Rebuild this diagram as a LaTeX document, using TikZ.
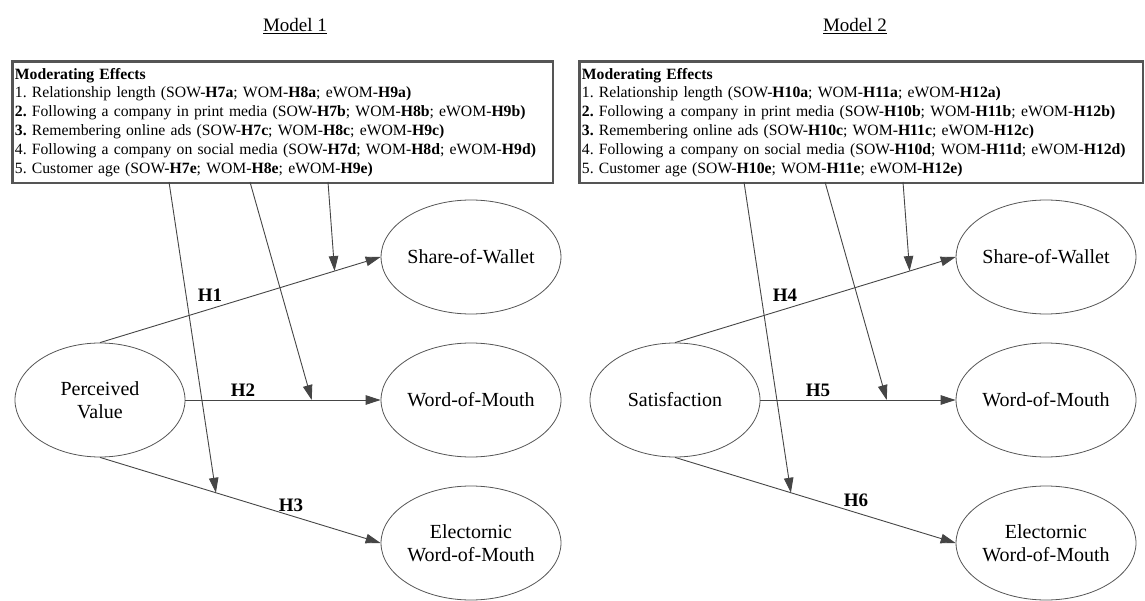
\documentclass[tikz,border=0pt]{standalone}
\usepackage{fontspec}
\setmainfont{Liberation Serif}
\usetikzlibrary{arrows.meta,shapes.geometric,positioning}
\usepackage{xcolor}

\definecolor{linegray}{HTML}{454545}
\definecolor{rimgray}{HTML}{555555}

\begin{document}
\frenchspacing
\begin{tikzpicture}[
	x=1pt, y=-1pt,
	>={Triangle[length=15pt,width=9.5pt]},
	title/.style={font=\fontsize{19}{22}\selectfont},
	modbox/.style={rectangle, draw=rimgray, line width=2.4pt, anchor=north west,
		align=left, inner xsep=2.5pt, inner ysep=0pt, minimum height=121.6pt,
		font=\fontsize{15.7}{18.8}\selectfont\frenchspacing},
	construct/.style={ellipse, draw=rimgray, line width=0.8pt, minimum width=170pt,
		minimum height=114pt, inner sep=0pt, align=center,
		font=\fontsize{20}{23}\selectfont},
	effect/.style={->, draw=linegray, line width=0.9pt},
	moder/.style={->, draw=linegray, line width=0.9pt},
	hyp/.style={font=\bfseries\fontsize{19}{22}\selectfont}
	]
	\useasboundingbox (0,0) rectangle (1145,601);
	
	% Model 1
	\node[title] (t1) at (295,26) {\underline{Model 1}};
	\node[modbox, text width=535.6pt] (mod1) at (11.2,60.2) {%
		\textbf{Moderating Effects}\\
		1. Relationship length (SOW-\textbf{H7a}; WOM-\textbf{H8a}; eWOM-\textbf{H9a)}\\
		\textbf{2.} Following a company in print media (SOW-\textbf{H7b}; WOM-\textbf{H8b}; eWOM-\textbf{H9b)}\\
		\textbf{3.} Remembering online ads (SOW-\textbf{H7c}; WOM-\textbf{H8c}; eWOM-\textbf{H9c)}\\
		4. Following a company on social media (SOW-\textbf{H7d}; WOM-\textbf{H8d}; eWOM-\textbf{H9d)}\\
		5. Customer age (SOW-\textbf{H7e}; WOM-\textbf{H8e}; eWOM-\textbf{H9e)}};
	
	\node[construct] (pv1) at (100,400) {Perceived\\Value};
	\node[construct] (sow1) at (471,257) {Share-of-Wallet};
	\node[construct] (wom1) at (471,400) {Word-of-Mouth};
	\node[construct] (ewom1) at (471,543) {Electornic\\Word-of-Mouth};
	
	\draw[effect] (pv1.north) -- coordinate[pos=0.836] (on1sow) (sow1.west);
	\draw[effect] (pv1.east) -- coordinate[pos=0.647] (on1wom) (wom1.west);
	\draw[effect] (pv1.south) -- coordinate[pos=0.413] (on1ewom) (ewom1.west);
	
	\coordinate (m1sow) at (328,182);
	\coordinate (m1wom) at (250,182);
	\coordinate (m1ewom) at (169,182);
	\draw[moder] (m1sow) -- (on1sow);
	\draw[moder] (m1wom) -- (on1wom);
	\draw[moder] (m1ewom) -- (on1ewom);
	
	\node[hyp] (h1) at (210,295) {H1};
	\node[hyp] (h2) at (243,390) {H2};
	\node[hyp] (h3) at (291,505) {H3};
	
	% Model 2
	\node[title] (t2) at (855,26) {\underline{Model 2}};
	\node[modbox, text width=558.6pt] (mod2) at (578.2,60.2) {%
		\textbf{Moderating Effects}\\
		1. Relationship length (SOW-\textbf{H10a}; WOM-\textbf{H11a}; eWOM-\textbf{H12a)}\\
		\textbf{2.} Following a company in print media (SOW-\textbf{H10b}; WOM-\textbf{H11b}; eWOM-\textbf{H12b)}\\
		\textbf{3.} Remembering online ads (SOW-\textbf{H10c}; WOM-\textbf{H11c}; eWOM-\textbf{H12c)}\\
		4. Following a company on social media (SOW-\textbf{H10d}; WOM-\textbf{H11d}; eWOM-\textbf{H12d)}\\
		5. Customer age (SOW-\textbf{H10e}; WOM-\textbf{H11e}; eWOM-\textbf{H12e)}};
	
	\node[construct] (sat2) at (675,400) {Satisfaction};
	\node[construct] (sow2) at (1046,257) {Share-of-Wallet};
	\node[construct] (wom2) at (1046,400) {Word-of-Mouth};
	\node[construct] (ewom2) at (1046,543) {Electornic\\Word-of-Mouth};
	
	\draw[effect] (sat2.north) -- coordinate[pos=0.836] (on2sow) (sow2.west);
	\draw[effect] (sat2.east) -- coordinate[pos=0.647] (on2wom) (wom2.west);
	\draw[effect] (sat2.south) -- coordinate[pos=0.413] (on2ewom) (ewom2.west);
	
	\coordinate (m2sow) at (903,182);
	\coordinate (m2wom) at (825,182);
	\coordinate (m2ewom) at (744,182);
	\draw[moder] (m2sow) -- (on2sow);
	\draw[moder] (m2wom) -- (on2wom);
	\draw[moder] (m2ewom) -- (on2ewom);
	
	\node[hyp] (h4) at (785,295) {H4};
	\node[hyp] (h5) at (818,390) {H5};
	\node[hyp] (h6) at (856,500) {H6};
\end{tikzpicture}
\end{document}
